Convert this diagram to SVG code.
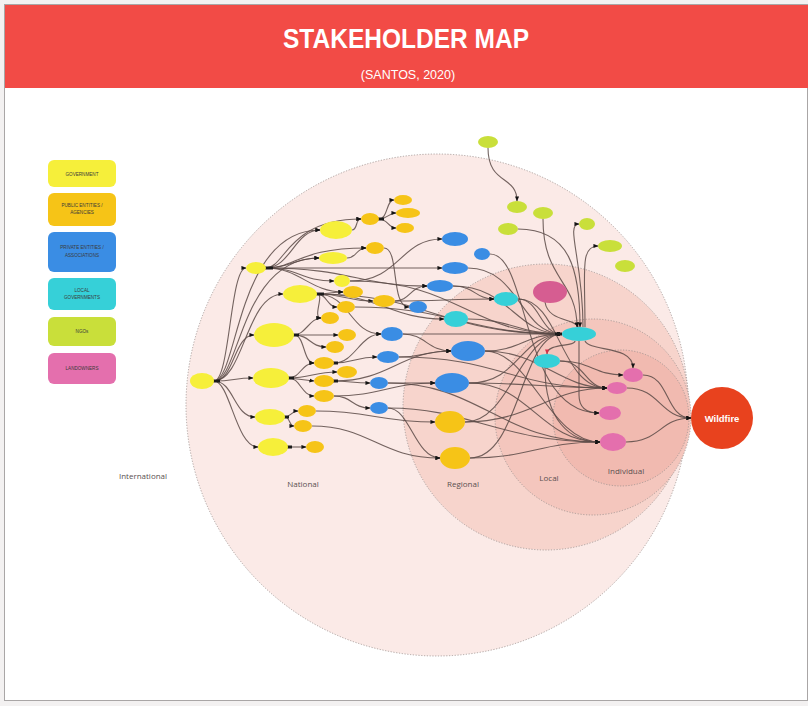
<svg xmlns="http://www.w3.org/2000/svg" width="808" height="706" viewBox="0 0 808 706">
<defs>
<style>
.zone{stroke:#9a8f8d;stroke-width:0.8;stroke-dasharray:1.2 1.6}
.zl{font-family:"Open Sans","Liberation Sans",sans-serif;font-size:8px;fill:#5a5050;text-anchor:middle}
.lg{font-family:"Liberation Sans",Arial,sans-serif;font-size:4.6px;fill:#3a3a3a;text-anchor:middle}
.gov{fill:#f6ef3a}
.pub{fill:#f6c417}
.pri{fill:#3a8de4}
.loc{fill:#36d0d8}
.ngo{fill:#c9df3a}
.lan{fill:#e46fad}
.lan2{fill:#d65d91}
#connectors path{fill:none;stroke:#5a4a47;stroke-width:1.1;stroke-opacity:0.85;marker-end:url(#ah)}
#connectors rect{fill:#1b1b1b}
</style>
<marker id="ah" viewBox="0 0 6 6" refX="5.5" refY="3" markerWidth="5" markerHeight="5" markerUnits="userSpaceOnUse" orient="auto"><path d="M0,0.5 L6,3 L0,5.5 z" fill="#141414"/></marker>
<marker id="ahr" viewBox="0 0 6 6" refX="5.5" refY="3" markerWidth="5" markerHeight="5" markerUnits="userSpaceOnUse" orient="auto"><path d="M0,0.5 L6,3 L0,5.5 z" fill="#d8304a"/></marker>
</defs>
<rect x="0" y="0" width="808" height="706" fill="#f3f1f1"/>
<rect x="4.5" y="4.5" width="803" height="696" fill="#ffffff" stroke="#a9a6a6" stroke-width="1"/>
<g id="header">
<rect x="5" y="5" width="803" height="83" fill="#f24b46"/>
<text x="406" y="48" font-family="Liberation Sans,Arial,sans-serif" font-weight="bold" font-size="27" fill="#ffffff" text-anchor="middle" textLength="246" lengthAdjust="spacingAndGlyphs">STAKEHOLDER MAP</text>
<text x="408" y="79" font-family="Liberation Sans,Arial,sans-serif" font-size="12.5" fill="#ffffff" text-anchor="middle">(SANTOS, 2020)</text>
</g>
<g id="zones">
<circle id="international" class="zone" cx="437" cy="405" r="251" fill="#fbeae7"/>
<circle id="regional" class="zone" cx="546" cy="407" r="143" fill="#f7d4cc"/>
<circle id="local" class="zone" cx="593" cy="417" r="98" fill="#f4c6bd"/>
<circle id="individual" class="zone" cx="621" cy="418" r="68" fill="#f1bab0"/>
<text class="zl" x="143" y="479">International</text>
<text class="zl" x="303" y="487">National</text>
<text class="zl" x="463" y="487">Regional</text>
<text class="zl" x="549" y="481">Local</text>
<text class="zl" x="626" y="474">Individual</text>
</g>
<g id="legend">
<g id="lg-gov"><rect x="48" y="160" width="68" height="27" rx="6" class="gov"/><text class="lg" x="82" y="175.5">GOVERNMENT</text></g>
<g id="lg-pub"><rect x="48" y="193" width="68" height="33" rx="6" class="pub"/><text class="lg" x="82" y="207">PUBLIC ENTITIES /</text><text class="lg" x="82" y="214">AGENCIES</text></g>
<g id="lg-pri"><rect x="48" y="232" width="68" height="40" rx="6" class="pri"/><text class="lg" x="82" y="249">PRIVATE ENTITIES /</text><text class="lg" x="82" y="257">ASSOCIATIONS</text></g>
<g id="lg-loc"><rect x="48" y="278" width="68" height="32" rx="6" class="loc"/><text class="lg" x="82" y="292">LOCAL</text><text class="lg" x="82" y="299">GOVERNMENTS</text></g>
<g id="lg-ngo"><rect x="48" y="317" width="68" height="29" rx="6" class="ngo"/><text class="lg" x="82" y="333">NGOs</text></g>
<g id="lg-lan"><rect x="48" y="353" width="68" height="31" rx="6" class="lan"/><text class="lg" x="82" y="370">LANDOWNERS</text></g>
</g>
<g id="connectors">
<path d="M214 381 C230 381 230 268 246 268"/>
<path d="M214 381 C238 381 236 230 320 230"/>
<path d="M214 381 C240 381 240 258 319 258"/>
<path d="M214 381 C244 381 246 294 283 294"/>
<path d="M214 381 C234 381 234 335 254 335"/>
<path d="M214 381 C234 381 234 378 253 378"/>
<path d="M214 381 C234 381 234 417 255 417"/>
<path d="M214 381 C230 381 236 447 258 447"/>
<path d="M266 268 C285 268 288 219 361 219"/>
<path d="M266 268 C290 268 295 230 320 230"/>
<path d="M266 268 C295 268 300 248 366 248"/>
<path d="M266 268 C290 268 295 258 319 258"/>
<path d="M266 268 L442 268"/>
<path d="M266 268 C300 268 300 281 334 281"/>
<path d="M266 268 C300 268 310 292 343 292"/>
<path d="M266 268 C350 268 360 286 427 286"/>
<path d="M352 230 C358 230 355 219 361 219"/>
<path d="M379 219 C388 219 386 200 394 200"/>
<path d="M379 219 C388 219 388 213 396 213"/>
<path d="M379 219 C388 219 388 228 396 228"/>
<path d="M347 258 C357 258 356 248 366 248"/>
<path d="M350 281 C400 281 400 239 442 239"/>
<path d="M384 248 C400 248 390 307 409 307"/>
<path d="M317 294 C330 294 330 292 343 292"/>
<path d="M317 294 C345 294 345 301 373 301"/>
<path d="M317 294 C327 294 327 307 337 307"/>
<path d="M317 294 C325 294 312 318 321 318"/>
<path d="M317 294 C350 294 350 334 381 334"/>
<path d="M317 294 C380 294 390 319 444 319"/>
<path d="M317 294 C430 294 440 334 562 334"/>
<path d="M395 301 C410 301 410 286 427 286"/>
<path d="M395 301 C440 301 450 299 494 299"/>
<path d="M294 335 L338 335"/>
<path d="M294 335 C310 335 310 347 326 347"/>
<path d="M294 335 C305 335 303 363 314 363"/>
<path d="M294 335 C305 335 310 318 321 318"/>
<path d="M289 378 C300 378 302 363 314 363"/>
<path d="M289 378 C310 378 315 372 337 372"/>
<path d="M289 378 L314 381"/>
<path d="M289 378 C300 378 302 396 314 396"/>
<path d="M285 417 C291 417 291 411 298 411"/>
<path d="M285 417 C290 417 289 426 294 426"/>
<path d="M288 447 L306 447"/>
<path d="M334 363 C355 363 360 334 381 334"/>
<path d="M334 363 C355 363 355 357 377 357"/>
<path d="M334 381 C350 381 352 383 370 383"/>
<path d="M334 381 C390 381 400 351 451 351"/>
<path d="M334 396 C352 396 352 408 370 408"/>
<path d="M334 396 C380 396 390 383 435 383"/>
<path d="M312 426 C370 426 380 458 440 458"/>
<path d="M316 411 C370 411 380 422 435 422"/>
<path d="M403 334 C425 334 428 351 451 351"/>
<path d="M403 334 C480 334 490 334 562 334"/>
<path d="M399 357 C425 357 425 351 451 351"/>
<path d="M399 357 C500 357 510 388 607 388"/>
<path d="M388 383 L435 383"/>
<path d="M388 383 C480 383 500 442 600 442"/>
<path d="M388 408 C410 408 415 458 440 458"/>
<path d="M388 408 C470 408 500 442 600 442"/>
<path d="M485 351 C520 351 525 334 562 334"/>
<path d="M485 351 C540 351 560 388 607 388"/>
<path d="M485 351 C530 351 550 442 600 442"/>
<path d="M469 383 C520 383 520 334 562 334"/>
<path d="M469 383 C530 383 540 442 600 442"/>
<path d="M469 383 C530 383 550 388 607 388"/>
<path d="M465 422 C510 422 520 334 562 334"/>
<path d="M470 458 C530 458 540 442 600 442"/>
<path d="M470 458 C520 458 520 334 562 334"/>
<path d="M465 422 C530 422 550 388 607 388"/>
<path d="M468 319 C510 319 520 334 562 334"/>
<path d="M453 286 C475 286 475 299 494 299"/>
<path d="M453 286 C510 286 515 334 562 334"/>
<path d="M468 268 C520 268 520 334 562 334"/>
<path d="M490 254 C530 254 520 413 599 413"/>
<path d="M518 299 C560 299 560 388 607 388"/>
<path d="M518 299 C540 299 540 334 562 334"/>
<path d="M545 302 C548 322 575 318 578 327"/>
<path d="M488 148 C488 185 517 175 517 201"/>
<path d="M543 219 C543 280 577 280 577 327"/>
<path d="M518 229 C570 229 580 270 580 327"/>
<path d="M583 327 C583 260 565 224 579 224"/>
<path d="M585 327 C585 270 580 246 598 246"/>
<path d="M575 341 C575 347 547 343 547 354" style="marker-end:url(#ahr)"/>
<path d="M585 341 C590 352 633 345 633 368"/>
<path d="M579 341 L579 395 C579 410 590 413 599 413"/>
<path d="M560 361 C590 361 595 375 623 375"/>
<path d="M560 361 C585 361 585 388 607 388"/>
<path d="M545 368 C545 420 570 442 600 442"/>
<path d="M643 375 C670 375 665 418 691 418"/>
<path d="M627 388 C660 388 660 418 691 418"/>
<path d="M626 442 C660 442 660 418 691 418"/>
<path d="M350 281 C460 281 470 334 562 334"/>
<path d="M355 307 C450 307 470 334 562 334"/>
<rect x="213" y="379.5" width="7" height="3"/>
<rect x="265" y="266.5" width="8" height="3"/>
<rect x="316" y="292.5" width="8" height="3"/>
<rect x="293" y="333.5" width="6" height="3"/>
<rect x="288" y="376.5" width="6" height="3"/>
<rect x="284" y="415.5" width="5" height="3"/>
<rect x="287" y="445.5" width="5" height="3"/>
<rect x="378" y="217.5" width="6" height="3"/>
<rect x="333" y="361.5" width="5" height="3"/>
<rect x="333" y="379.5" width="5" height="3"/>
<rect x="555" y="332.5" width="7" height="3"/>
</g>
<g id="nodes">
<g id="g0"><ellipse cx="202" cy="381" rx="12" ry="8" class="gov"/></g>
<g id="g1"><ellipse cx="256" cy="268" rx="10" ry="6" class="gov"/></g>
<g id="g2"><ellipse cx="336" cy="230" rx="16" ry="9" class="gov"/></g>
<g id="g3"><ellipse cx="333" cy="258" rx="14" ry="6" class="gov"/></g>
<g id="g4"><ellipse cx="342" cy="281" rx="8" ry="6" class="gov"/></g>
<g id="g5"><ellipse cx="300" cy="294" rx="17" ry="9" class="gov"/></g>
<g id="g6"><ellipse cx="274" cy="335" rx="20" ry="12" class="gov"/></g>
<g id="g7"><ellipse cx="271" cy="378" rx="18" ry="10" class="gov"/></g>
<g id="g8"><ellipse cx="270" cy="417" rx="15" ry="8" class="gov"/></g>
<g id="g9"><ellipse cx="273" cy="447" rx="15" ry="9" class="gov"/></g>
<g id="p1"><ellipse cx="370" cy="219" rx="9" ry="6" class="pub"/></g>
<g id="p2"><ellipse cx="403" cy="200" rx="9" ry="5" class="pub"/></g>
<g id="p3"><ellipse cx="408" cy="213" rx="12" ry="5" class="pub"/></g>
<g id="p4"><ellipse cx="405" cy="228" rx="9" ry="5" class="pub"/></g>
<g id="p5"><ellipse cx="375" cy="248" rx="9" ry="6" class="pub"/></g>
<g id="p6"><ellipse cx="353" cy="292" rx="10" ry="6" class="pub"/></g>
<g id="p7"><ellipse cx="384" cy="301" rx="11" ry="6" class="pub"/></g>
<g id="p8"><ellipse cx="346" cy="307" rx="9" ry="6" class="pub"/></g>
<g id="p9"><ellipse cx="330" cy="318" rx="9" ry="6" class="pub"/></g>
<g id="p10"><ellipse cx="347" cy="335" rx="9" ry="6" class="pub"/></g>
<g id="p11"><ellipse cx="335" cy="347" rx="9" ry="6" class="pub"/></g>
<g id="p12"><ellipse cx="324" cy="363" rx="10" ry="6" class="pub"/></g>
<g id="p13"><ellipse cx="347" cy="372" rx="10" ry="6" class="pub"/></g>
<g id="p14"><ellipse cx="324" cy="381" rx="10" ry="6" class="pub"/></g>
<g id="p15"><ellipse cx="324" cy="396" rx="10" ry="6" class="pub"/></g>
<g id="p16"><ellipse cx="307" cy="411" rx="9" ry="6" class="pub"/></g>
<g id="p17"><ellipse cx="303" cy="426" rx="9" ry="6" class="pub"/></g>
<g id="p18"><ellipse cx="315" cy="447" rx="9" ry="6" class="pub"/></g>
<g id="p19"><ellipse cx="450" cy="422" rx="15" ry="11" class="pub"/></g>
<g id="p20"><ellipse cx="455" cy="458" rx="15" ry="11" class="pub"/></g>
<g id="b1"><ellipse cx="455" cy="239" rx="13" ry="7" class="pri"/></g>
<g id="b2"><ellipse cx="482" cy="254" rx="8" ry="6" class="pri"/></g>
<g id="b3"><ellipse cx="455" cy="268" rx="13" ry="6" class="pri"/></g>
<g id="b4"><ellipse cx="440" cy="286" rx="13" ry="6" class="pri"/></g>
<g id="b5"><ellipse cx="418" cy="307" rx="9" ry="6" class="pri"/></g>
<g id="b6"><ellipse cx="392" cy="334" rx="11" ry="7" class="pri"/></g>
<g id="b7"><ellipse cx="388" cy="357" rx="11" ry="6" class="pri"/></g>
<g id="b8"><ellipse cx="379" cy="383" rx="9" ry="6" class="pri"/></g>
<g id="b9"><ellipse cx="379" cy="408" rx="9" ry="6" class="pri"/></g>
<g id="b10"><ellipse cx="468" cy="351" rx="17" ry="10" class="pri"/></g>
<g id="b11"><ellipse cx="452" cy="383" rx="17" ry="10" class="pri"/></g>
<g id="c1"><ellipse cx="506" cy="299" rx="12" ry="7" class="loc"/></g>
<g id="c2"><ellipse cx="456" cy="319" rx="12" ry="8" class="loc"/></g>
<g id="c3"><ellipse cx="579" cy="334" rx="17" ry="7" class="loc"/></g>
<g id="c4"><ellipse cx="547" cy="361" rx="13" ry="7" class="loc"/></g>
<g id="n1"><ellipse cx="488" cy="142" rx="10" ry="6" class="ngo"/></g>
<g id="n2"><ellipse cx="517" cy="207" rx="10" ry="6" class="ngo"/></g>
<g id="n3"><ellipse cx="543" cy="213" rx="10" ry="6" class="ngo"/></g>
<g id="n4"><ellipse cx="508" cy="229" rx="10" ry="6" class="ngo"/></g>
<g id="n5"><ellipse cx="587" cy="224" rx="8" ry="6" class="ngo"/></g>
<g id="n6"><ellipse cx="610" cy="246" rx="12" ry="6" class="ngo"/></g>
<g id="n7"><ellipse cx="625" cy="266" rx="10" ry="6" class="ngo"/></g>
<g id="l0"><ellipse cx="550" cy="292" rx="17" ry="11" class="lan2"/></g>
<g id="l1"><ellipse cx="633" cy="375" rx="10" ry="7" class="lan"/></g>
<g id="l2"><ellipse cx="617" cy="388" rx="10" ry="6" class="lan"/></g>
<g id="l3"><ellipse cx="610" cy="413" rx="11" ry="7" class="lan"/></g>
<g id="l4"><ellipse cx="613" cy="442" rx="13" ry="9" class="lan"/></g>
<g id="wildfire"><circle cx="722" cy="418" r="31" fill="#e8421e"/><text x="722" y="421.5" font-family="Liberation Sans,Arial,sans-serif" font-weight="bold" font-size="9.5" fill="#ffffff" text-anchor="middle">Wildfire</text></g>
</g>
</svg>
